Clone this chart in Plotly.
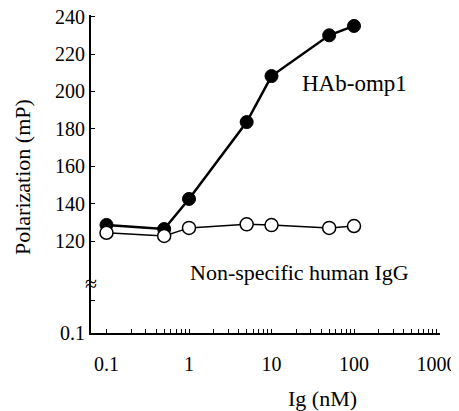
import plotly.graph_objects as go

conc = [0.1, 0.5, 1, 5, 10, 50, 100]
hab_omp1 = [128.6, 126.4, 142.5, 183.6, 208.2, 230.0, 235.0]
nonspecific = [124.4, 122.7, 127.0, 128.9, 128.5, 127.0, 128.0]

x_ticks = [0.1, 1, 10, 100, 1000]
x_ticklabels = ["0.1", "1", "10", "100", "1000"]
y_ticks = [120, 140, 160, 180, 200, 220, 240]
y_ticklabels = ["120", "140", "160", "180", "200", "220", "240"]
minor_x = [m * 10 ** e for e in range(-1, 3) for m in range(2, 10)]

FONT = "Liberation Serif"

# page body has an 8px margin: design in reference pixels, shift by OFF
OFF = 8
W, H = 459, 411
L, R, T, B = 91 - OFF, 440 - OFF, 15 - OFF, 333 - OFF
PW, PH = R - L, B - T

# vertical scale of the upper segment (reference pixels)
Y120_PX, PX_PER_20 = 241, 37.4
# horizontal log scale (reference pixels): position of 1 nM and pixels per decade
X1_PX, PX_PER_DEC = 189, 82.5

def yval(p):
    return 120 - (p - Y120_PX) / PX_PER_20 * 20

# broken lower segment: "0.1" sits at the bottom of the axis, one small tick above it
low_tickvals = [yval(333), yval(300)]
low_ticklabels = ["0.1", ""]

def px(xp):
    return (xp - OFF - L) / PW

def py(yp):
    return (B - (yp - OFF)) / PH

fig = go.Figure()
fig.add_trace(go.Scatter(
    x=conc, y=hab_omp1, mode="lines+markers",
    line=dict(color="black", width=2.5),
    marker=dict(symbol="circle", size=13, color="black", line=dict(color="black", width=1)),
    showlegend=False))
fig.add_trace(go.Scatter(
    x=conc, y=nonspecific, mode="lines+markers",
    line=dict(color="black", width=1.5),
    marker=dict(symbol="circle", size=13, color="white", line=dict(color="black", width=1.5)),
    showlegend=False))

x_range = [(91 - X1_PX) / PX_PER_DEC, (440 - X1_PX) / PX_PER_DEC]

def ann(text, x, y, size, xanchor="center", angle=0):
    return dict(text=text, x=px(x), y=py(y), xref="paper", yref="paper",
                xanchor=xanchor, yanchor="middle", textangle=angle,
                showarrow=False, font=dict(family=FONT, size=size, color="black"))

fig.update_layout(
    width=W, height=H,
    margin=dict(l=L, r=W - R, t=T, b=H - B, autoexpand=False),
    paper_bgcolor="white", plot_bgcolor="white",
    font=dict(family=FONT, size=20, color="black"),
    xaxis=dict(type="log", range=x_range,
               showline=True, linecolor="#000000", linewidth=2,
               ticks="inside", ticklen=4, tickwidth=1, tickcolor="#000000",
               tickvals=x_ticks, ticktext=x_ticklabels, ticklabelstandoff=12,
               ticklabeloverflow="allow",
               minor=dict(tickvals=minor_x, ticks="inside", ticklen=4, tickwidth=1,
                          tickcolor="#000000", showgrid=False),
               showgrid=False, zeroline=False,
               tickfont=dict(family=FONT, size=20, color="black")),
    yaxis=dict(range=[yval(333), yval(15)],
               showline=True, linecolor="#000000", linewidth=2,
               ticks="inside", ticklen=4, tickwidth=1, tickcolor="#000000",
               tickvals=y_ticks + low_tickvals, ticktext=y_ticklabels + low_ticklabels,
               ticklabeloverflow="allow",
               showgrid=False, zeroline=False,
               tickfont=dict(family=FONT, size=20, color="black")),
    annotations=[
        ann("Polarization (mP)", 22.5, 177.5, 22, angle=-90),
        ann("Ig (nM)", 322, 398, 22),
        ann("HAb-omp1", 300, 84, 23, xanchor="left"),
        ann("Non-specific human IgG", 188, 272, 22, xanchor="left"),
        ann("≈", 91, 283, 22),
    ],
)

fig.write_html("out.html")
